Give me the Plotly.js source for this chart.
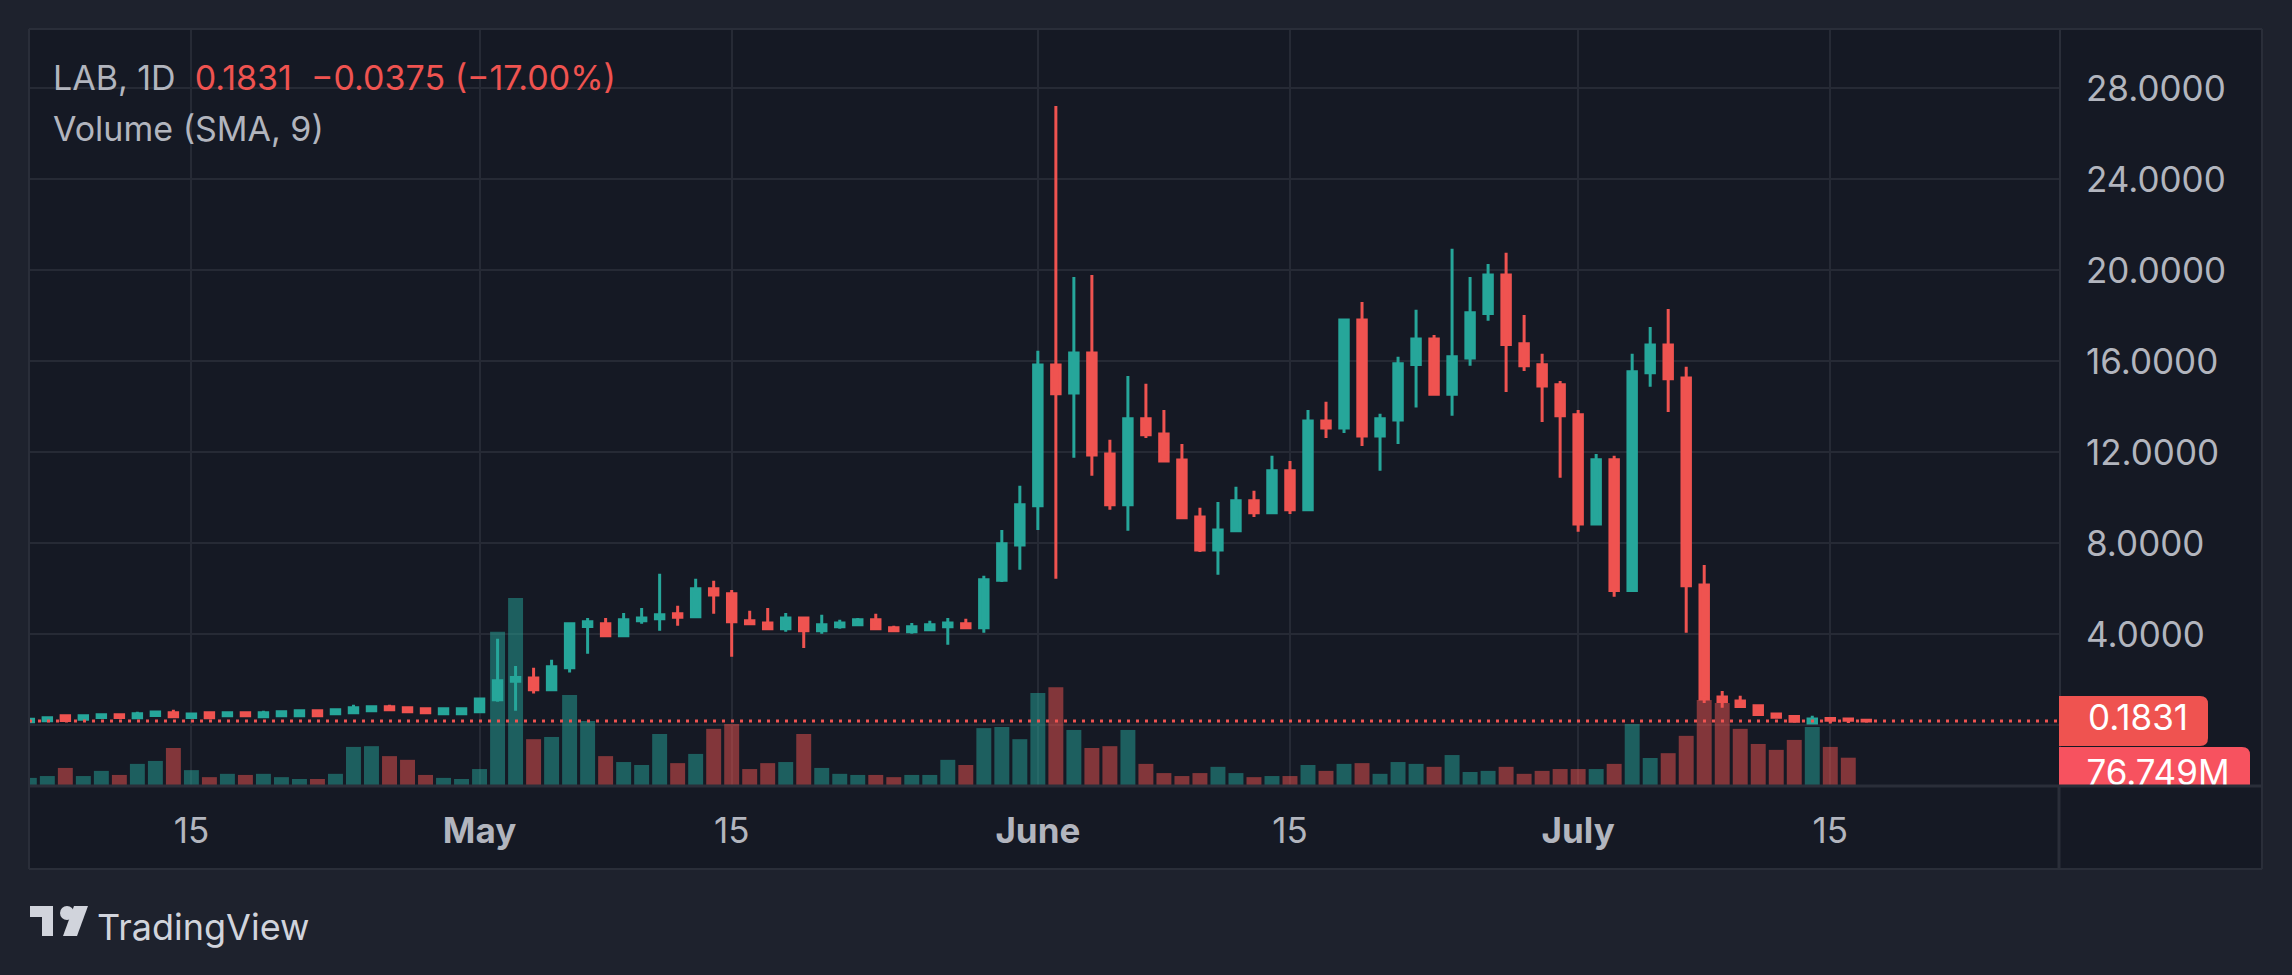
<!DOCTYPE html>
<html><head><meta charset="utf-8">
<script src="https://cdn.plot.ly/plotly-3.0.1.min.js"></script>
<style>html,body{margin:0;padding:0;background:#1e222d;overflow:hidden}#chart{width:2292px;height:975px}</style>
</head><body><div id="chart"></div>
<script>
const symbol = 'LAB';
const interval = '1D';
const dates = [
'2025-04-06','2025-04-07','2025-04-08','2025-04-09','2025-04-10','2025-04-11','2025-04-12','2025-04-13','2025-04-14','2025-04-15',
'2025-04-16','2025-04-17','2025-04-18','2025-04-19','2025-04-20','2025-04-21','2025-04-22','2025-04-23','2025-04-24','2025-04-25',
'2025-04-26','2025-04-27','2025-04-28','2025-04-29','2025-04-30','2025-05-01','2025-05-02','2025-05-03','2025-05-04','2025-05-05',
'2025-05-06','2025-05-07','2025-05-08','2025-05-09','2025-05-10','2025-05-11','2025-05-12','2025-05-13','2025-05-14','2025-05-15',
'2025-05-16','2025-05-17','2025-05-18','2025-05-19','2025-05-20','2025-05-21','2025-05-22','2025-05-23','2025-05-24','2025-05-25',
'2025-05-26','2025-05-27','2025-05-28','2025-05-29','2025-05-30','2025-05-31','2025-06-01','2025-06-02','2025-06-03','2025-06-04',
'2025-06-05','2025-06-06','2025-06-07','2025-06-08','2025-06-09','2025-06-10','2025-06-11','2025-06-12','2025-06-13','2025-06-14',
'2025-06-15','2025-06-16','2025-06-17','2025-06-18','2025-06-19','2025-06-20','2025-06-21','2025-06-22','2025-06-23','2025-06-24',
'2025-06-25','2025-06-26','2025-06-27','2025-06-28','2025-06-29','2025-06-30','2025-07-01','2025-07-02','2025-07-03','2025-07-04',
'2025-07-05','2025-07-06','2025-07-07','2025-07-08','2025-07-09','2025-07-10','2025-07-11','2025-07-12','2025-07-13','2025-07-14',
'2025-07-15','2025-07-16','2025-07-17'];
const open = [
0.16,0.20,0.42,0.26,0.34,0.46,0.33,0.43,0.55,0.34,
0.55,0.42,0.55,0.37,0.42,0.42,0.64,0.51,0.55,0.64,
0.81,0.77,0.73,0.51,0.51,0.59,1.12,1.93,2.08,1.56,
2.53,4.34,4.46,3.93,4.59,4.68,4.90,4.77,6.00,5.78,
4.59,4.50,4.24,4.72,4.15,4.33,4.42,4.64,4.29,4.11,
4.20,4.33,4.46,4.29,6.37,7.93,9.65,15.84,14.61,16.37,
11.93,9.69,13.47,12.81,11.66,9.16,7.71,8.55,9.87,9.34,
11.19,9.47,13.38,13.07,17.82,12.72,13.42,15.86,16.98,14.55,
16.15,18.10,19.80,16.77,15.85,14.97,13.65,8.85,11.67,5.92,
15.50,16.72,15.27,6.17,1.24,1.07,0.86,0.50,0.38,0.10,
0.30,0.28,0.2206];
const high = [
0.28,0.37,0.42,0.43,0.51,0.51,0.59,0.58,0.68,0.52,
0.56,0.56,0.59,0.64,0.60,0.65,0.65,0.69,0.90,0.86,
0.90,0.78,0.74,0.74,0.74,1.17,3.80,2.61,2.53,2.88,
4.47,4.72,4.72,4.94,5.16,6.66,5.25,6.44,6.35,5.95,
5.03,5.16,4.94,4.77,4.86,4.64,4.72,4.90,4.37,4.50,
4.59,4.72,4.68,6.57,8.59,10.53,16.46,27.23,19.71,19.80,
12.55,15.36,15.01,13.86,12.37,9.56,9.82,10.49,10.31,11.85,
11.62,13.86,14.22,17.87,18.61,13.69,16.20,18.27,17.16,20.95,
19.71,20.28,20.77,18.04,16.33,15.14,13.86,11.93,11.85,16.33,
17.51,18.30,15.76,7.05,1.51,1.30,0.87,0.54,0.39,0.42,
0.31,0.30,0.24];
const low = [
0.13,0.19,0.14,0.24,0.33,0.33,0.32,0.42,0.36,0.33,
0.31,0.41,0.41,0.36,0.41,0.41,0.40,0.50,0.54,0.63,
0.67,0.55,0.54,0.50,0.50,0.58,1.03,0.64,1.40,1.55,
2.32,3.14,3.92,3.92,4.46,4.15,4.37,4.72,4.90,3.01,
4.45,4.20,4.11,3.40,4.02,4.24,4.41,4.23,4.15,4.02,
4.19,3.54,4.28,4.07,6.30,6.84,8.59,6.44,11.76,10.97,
9.47,8.55,12.63,11.60,9.10,7.62,6.62,8.54,9.16,9.29,
9.29,9.46,12.63,12.85,12.28,11.19,12.37,13.97,14.54,13.61,
15.80,17.78,14.65,15.57,13.33,10.88,8.51,8.84,5.65,5.87,
14.88,13.77,4.07,0.98,0.77,0.82,0.46,0.34,0.17,0.06,
0.08,0.10,0.15];
const close = [
0.26,0.33,0.21,0.42,0.46,0.34,0.51,0.58,0.37,0.50,
0.33,0.55,0.42,0.55,0.59,0.64,0.42,0.68,0.77,0.81,
0.68,0.59,0.55,0.73,0.73,1.16,1.96,2.10,1.56,2.57,
4.46,4.55,3.93,4.64,4.72,4.86,4.75,6.00,5.73,4.55,
4.46,4.24,4.72,4.15,4.42,4.50,4.64,4.24,4.16,4.33,
4.42,4.50,4.29,6.40,7.98,9.69,15.84,14.57,16.37,11.88,
9.69,13.47,12.77,11.62,9.12,7.71,8.59,9.87,9.34,11.19,
9.47,13.38,13.07,17.82,12.72,13.47,15.89,16.98,14.55,16.20,
18.13,19.80,16.74,15.80,14.92,13.61,8.85,11.67,5.92,15.54,
16.72,15.23,6.13,1.15,1.04,0.83,0.47,0.35,0.18,0.28,
0.22,0.2206,0.1831];
// volume in millions
const volumeM = [
22,27,49,27,41,30,60,68,103,43,
24,33,30,33,24,19,19,33,106,108,
81,71,30,22,19,46,418,510,127,133,
247,176,81,65,57,141,62,87,155,168,
46,62,65,141,49,33,30,30,24,30,
30,71,57,157,160,127,252,268,152,103,
108,152,60,35,27,35,52,35,24,27,
27,57,41,60,62,33,65,60,52,84,
38,41,52,33,41,46,46,46,60,168,
76,89,136,233,225,155,114,98,125,160,
106,76.749,null];
const lastVolumeLabel = '76.749M';
const tickDates = ['2025-04-15','2025-05-01','2025-05-15','2025-06-01','2025-06-15','2025-07-01','2025-07-15'];
const tickLabels = ['15','<b>May</b>','15','<b>June</b>','15','<b>July</b>','15'];
const priceTicks = [0,4,8,12,16,20,24,28];
const priceTickLabels = ['','4.0000','8.0000','12.0000','16.0000','20.0000','24.0000','28.0000'];

// ---- layout geometry (pixels) ----
const W = 2292, H = 975;
const L = 29, R = 2262, T = 29, B = 786, TB = 869, DIV = 2059;
const px = x => (x - L) / (R - L);
const py = y => (B - y) / (B - T);
const xd = (DIV - L) / (R - L);
const priceRange = [-2.67, 30.61];
const volRange = [0, 2053];
const xRange = ['2025-04-05 23:35', '2025-07-27 16:48'];

const UP = '#26a69a', DOWN = '#ef5350';
const GRID = '#262a35', FRAME = '#2a2e39', TXT = '#b2b5be', BG = '#151924';
const FONT = 'Inter, Roboto, "Noto Sans", sans-serif';

const n = dates.length;
const lastClose = close[n-1], prevClose = close[n-2];
const chg = lastClose - prevClose;
const pct = chg / prevClose * 100;
const fmtSigned = v => (v < 0 ? '\u2212' : '+') + Math.abs(v).toFixed(4);
const legendText = symbol + ', ' + interval + '\u00a0\u00a0<span style="color:' + DOWN + '">' +
  lastClose.toFixed(4) + '\u00a0\u00a0' + fmtSigned(chg) + ' (' + (pct < 0 ? '\u2212' : '+') + Math.abs(pct).toFixed(2) + '%)</span>';

const volColors = dates.map((d, i) => close[i] >= open[i] ? 'rgba(38,166,154,0.5)' : 'rgba(239,83,80,0.5)');

const volTrace = {
  type: 'bar', x: dates, y: volumeM, xaxis: 'x', yaxis: 'y',
  marker: {color: volColors, line: {width: 0}},
  width: 0.83 * 86400000, hoverinfo: 'skip'
};
const candleTrace = {
  type: 'candlestick', x: dates, open: open, high: high, low: low, close: close,
  xaxis: 'x', yaxis: 'y2', whiskerwidth: 0,
  increasing: {line: {color: UP, width: 3}, fillcolor: UP},
  decreasing: {line: {color: DOWN, width: 3}, fillcolor: DOWN},
  hoverinfo: 'skip'
};

// price-axis side panel (x3/y3 in pixel units) for the clipped value labels
const sideW = R - DIV, paneH = B - T;
const priceToY3 = p => (p - priceRange[0]) / (priceRange[1] - priceRange[0]) * paneH;
const pC = priceToY3(lastClose);
const pTop = pC + 25, pBot = pC - 25;
const vTop = pBot - 1;
const labelTrace = {
  type: 'scatter', mode: 'text', xaxis: 'x3', yaxis: 'y3',
  x: [79, 99], y: [pC, vTop - 29],
  text: [lastClose.toFixed(4), lastVolumeLabel],
  textposition: 'middle center', cliponaxis: true,
  textfont: {family: FONT, size: 35, color: '#ffffff'}, hoverinfo: 'skip'
};

const rr = 8;
const shapes = [
  // frame background fill
  {type: 'rect', xref: 'paper', yref: 'paper', x0: px(L), x1: px(R), y0: py(T), y1: py(TB),
   fillcolor: BG, line: {width: 0}, layer: 'below'},
  // last price dotted line
  {type: 'line', xref: 'paper', yref: 'y2', x0: 0, x1: xd, y0: lastClose, y1: lastClose,
   line: {color: DOWN, width: 3, dash: '3px,6px'}, layer: 'above'},
  // frame lines
  {type: 'line', xref: 'paper', yref: 'paper', x0: px(L), x1: px(R), y0: py(T), y1: py(T), line: {color: FRAME, width: 2}, layer: 'above'},
  {type: 'line', xref: 'paper', yref: 'paper', x0: px(L), x1: px(R), y0: py(B), y1: py(B), line: {color: FRAME, width: 3}, layer: 'above'},
  {type: 'line', xref: 'paper', yref: 'paper', x0: px(L), x1: px(R), y0: py(TB), y1: py(TB), line: {color: FRAME, width: 2}, layer: 'above'},
  {type: 'line', xref: 'paper', yref: 'paper', x0: px(L), x1: px(L), y0: py(T), y1: py(TB), line: {color: FRAME, width: 2}, layer: 'above'},
  {type: 'line', xref: 'paper', yref: 'paper', x0: px(R), x1: px(R), y0: py(T), y1: py(TB), line: {color: FRAME, width: 2}, layer: 'above'},
  {type: 'line', xref: 'paper', yref: 'paper', x0: px(DIV), x1: px(DIV), y0: py(B), y1: py(TB), line: {color: FRAME, width: 3}, layer: 'above'},
  {type: 'line', xref: 'x3', yref: 'y3', x0: 0.5, x1: 0.5, y0: 0, y1: paneH, line: {color: FRAME, width: 3}, layer: 'below'},
  // last price label box
  {type: 'path', xref: 'x3', yref: 'y3', layer: 'below', fillcolor: '#ef5350', line: {width: 0},
   path: `M -1,${pBot} L ${149-rr},${pBot} Q 149,${pBot} 149,${pBot+rr} L 149,${pTop-rr} Q 149,${pTop} ${149-rr},${pTop} L -1,${pTop} Z`},
  // volume label box (clipped at pane bottom)
  {type: 'path', xref: 'x3', yref: 'y3', layer: 'below', fillcolor: '#f7525f', line: {width: 0},
   path: `M -1,-30 L 191,-30 L 191,${vTop-rr} Q 191,${vTop} ${191-rr},${vTop} L -1,${vTop} Z`},
];

// TradingView logo mark
const P = (x, y) => px(x) + ',' + py(y);
shapes.push({type: 'path', xref: 'paper', yref: 'paper', fillcolor: '#d1d4dc', line: {width: 0},
  path: `M ${P(30,906)} L ${P(53,906)} L ${P(53,936)} L ${P(42,936)} L ${P(42,917)} L ${P(30,917)} Z`});
shapes.push({type: 'circle', xref: 'paper', yref: 'paper', fillcolor: '#d1d4dc', line: {width: 0},
  x0: px(60), x1: px(74), y0: py(920), y1: py(906)});
shapes.push({type: 'path', xref: 'paper', yref: 'paper', fillcolor: '#d1d4dc', line: {width: 0},
  path: `M ${P(74,906)} L ${P(88,906)} L ${P(77,936)} L ${P(63,936)} Z`});

const annotations = [
  {xref: 'paper', yref: 'paper', x: px(51), y: py(77), xanchor: 'left', yanchor: 'middle', showarrow: false,
   text: legendText, font: {family: FONT, size: 34, color: TXT}},
  {xref: 'paper', yref: 'paper', x: px(51), y: py(128), xanchor: 'left', yanchor: 'middle', showarrow: false,
   text: 'Volume (SMA, 9)', font: {family: FONT, size: 34, color: TXT}},
  {xref: 'paper', yref: 'paper', x: px(95), y: py(927), xanchor: 'left', yanchor: 'middle', showarrow: false,
   text: 'TradingView', font: {family: FONT, size: 36, color: '#d1d4dc'}},
];

const layout = {
  width: W, height: H, autosize: false,
  margin: {l: L, r: W - R, t: T, b: H - B, pad: 0},
  paper_bgcolor: '#1e222d', plot_bgcolor: 'rgba(0,0,0,0)',
  showlegend: false, hovermode: false, dragmode: false,
  boxgap: 0.33,
  xaxis: {type: 'date', domain: [0, xd], range: xRange, anchor: 'y',
    tickvals: tickDates, ticktext: tickLabels, ticks: '', showline: false, zeroline: false,
    showgrid: true, gridcolor: GRID, gridwidth: 2, rangeslider: {visible: false},
    tickfont: {family: FONT, size: 35, color: TXT}, ticklabelstandoff: 21, fixedrange: true},
  yaxis: {range: volRange, visible: false, showgrid: false, fixedrange: true},
  yaxis2: {overlaying: 'y', side: 'right', anchor: 'x', range: priceRange,
    tickvals: priceTicks, ticktext: priceTickLabels, ticks: '', showline: false, zeroline: false,
    showgrid: true, gridcolor: GRID, gridwidth: 2,
    tickfont: {family: FONT, size: 35, color: TXT}, ticklabelstandoff: 26, fixedrange: true},
  xaxis3: {domain: [xd, 1], range: [0, sideW], anchor: 'y3', visible: false, fixedrange: true},
  yaxis3: {domain: [0, 1], range: [0, paneH], anchor: 'x3', visible: false, fixedrange: true},
  shapes: shapes, annotations: annotations
};

Plotly.newPlot('chart', [volTrace, candleTrace, labelTrace], layout, {displayModeBar: false, staticPlot: true});
</script>
</body></html>
